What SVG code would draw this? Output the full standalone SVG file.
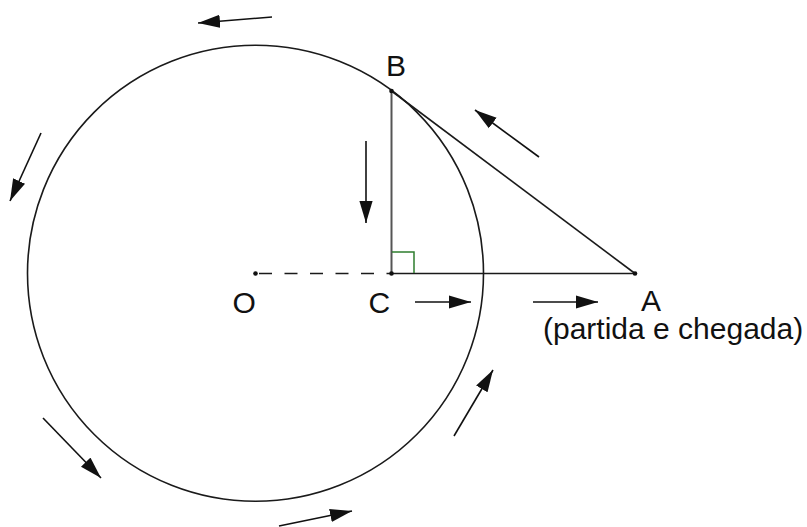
<svg xmlns="http://www.w3.org/2000/svg" width="807" height="527" viewBox="0 0 807 527">
<defs>
<style>
.ln{stroke:#1a1a1a;stroke-width:1.6;fill:none}
.arr{stroke:#111;stroke-width:1.6;fill:none;marker-end:url(#ah)}
.lbl{font-family:"Liberation Sans",Arial,sans-serif;font-size:30px;fill:#111}
.pt{fill:#111}
</style>
<marker id="ah" markerUnits="userSpaceOnUse" markerWidth="22" markerHeight="14" viewBox="0 0 20 12" refX="20" refY="6" orient="auto">
<path d="M0,0 L20,6 L0,12 Z" fill="#111"/>
</marker>
</defs>
<rect width="807" height="527" fill="#fff"/>
<g id="circle">
<circle cx="255.5" cy="273.3" r="228" class="ln"/>
</g>
<g id="connectors">
<line x1="259" y1="273.5" x2="391.5" y2="273.5" stroke="#1a1a1a" stroke-width="1.6" stroke-dasharray="13 12.5"/>
<line x1="391.5" y1="273.5" x2="635" y2="273.5" class="ln"/>
<line x1="391.5" y1="91" x2="391.5" y2="273.5" stroke="#555" stroke-width="2"/>
<line x1="391.5" y1="91" x2="635" y2="273.5" class="ln"/>
<polyline points="392,252 414,252 414,273" fill="none" stroke="#2e7d2e" stroke-width="1.5"/>
<line x1="272" y1="17" x2="198" y2="23" class="arr"/>
<line x1="41" y1="133" x2="10" y2="201" class="arr"/>
<line x1="43" y1="418" x2="101" y2="478" class="arr"/>
<line x1="279" y1="526" x2="352" y2="511" class="arr"/>
<line x1="454" y1="436" x2="493" y2="370" class="arr"/>
<line x1="539" y1="157" x2="475" y2="110" class="arr"/>
<line x1="366" y1="141" x2="366" y2="223" class="arr"/>
<line x1="415" y1="302" x2="471" y2="302" class="arr"/>
<line x1="533" y1="302" x2="598" y2="302" class="arr"/>
</g>
<g id="O">
<circle cx="255.5" cy="273.5" r="2.3" class="pt"/>
<text x="232.5" y="313" class="lbl">O</text>
</g>
<g id="C">
<circle cx="391.5" cy="273.5" r="2.3" class="pt"/>
<text x="368.5" y="313" class="lbl">C</text>
</g>
<g id="B">
<circle cx="391.5" cy="91" r="2.3" class="pt"/>
<text x="386" y="76" class="lbl">B</text>
</g>
<g id="A">
<circle cx="635" cy="273.5" r="2.3" class="pt"/>
<text x="641" y="311" class="lbl">A</text>
<text x="543" y="339" class="lbl">(partida e chegada)</text>
</g>
</svg>
